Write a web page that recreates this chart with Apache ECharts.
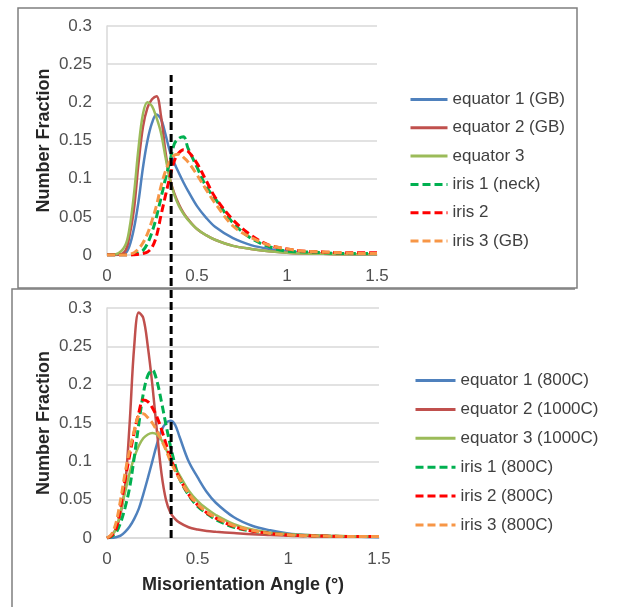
<!DOCTYPE html>
<html>
<head>
<meta charset="utf-8">
<script src="https://cdn.jsdelivr.net/npm/echarts@6/dist/echarts.min.js"></script>
<style>
    html, body { margin: 0; padding: 0; background: #fff; }
    #chart { width: 618px; height: 607px; }
</style>
</head>
<body>
<div id="chart"></div>
<script>
// top panel (GB / neck samples)
var topX = [0, 0.05, 0.1, 0.125, 0.15, 0.175, 0.2, 0.225, 0.25, 0.275, 0.3, 0.325, 0.35, 0.375, 0.4, 0.425, 0.45, 0.5, 0.55, 0.6, 0.7, 0.8, 0.9, 1.0, 1.1, 1.2, 1.3, 1.4, 1.5];
var topNames = ['equator 1 (GB)', 'equator 2 (GB)', 'equator 3', 'iris 1 (neck)', 'iris 2', 'iris 3 (GB)'];
var topEquator1 = [0, 0, 0.002, 0.012, 0.035, 0.07, 0.115, 0.15, 0.173, 0.184, 0.178, 0.158, 0.135, 0.12, 0.107, 0.095, 0.084, 0.064, 0.049, 0.037, 0.022, 0.013, 0.008, 0.005, 0.003, 0.002, 0.0015, 0.001, 0.001];
var topEquator2 = [0, 0, 0.005, 0.025, 0.06, 0.12, 0.168, 0.193, 0.204, 0.208, 0.182, 0.135, 0.1, 0.08, 0.066, 0.055, 0.047, 0.034, 0.026, 0.02, 0.012, 0.008, 0.005, 0.003, 0.002, 0.0015, 0.001, 0.001, 0.001];
var topEquator3 = [0, 0.001, 0.012, 0.035, 0.08, 0.14, 0.185, 0.2, 0.195, 0.18, 0.16, 0.128, 0.098, 0.078, 0.064, 0.054, 0.046, 0.034, 0.026, 0.02, 0.012, 0.008, 0.005, 0.003, 0.002, 0.0015, 0.001, 0.001, 0.001];
var topIris1 = [0, 0, 0, 0, 0.001, 0.003, 0.006, 0.015, 0.03, 0.05, 0.075, 0.1, 0.123, 0.146, 0.153, 0.155, 0.14, 0.115, 0.09, 0.074, 0.042, 0.022, 0.011, 0.005, 0.004, 0.003, 0.002, 0.002, 0.002];
var topIris2 = [0, 0, 0, 0, 0, 0.001, 0.002, 0.004, 0.01, 0.025, 0.052, 0.078, 0.103, 0.124, 0.134, 0.138, 0.136, 0.12, 0.098, 0.076, 0.046, 0.026, 0.013, 0.008, 0.005, 0.004, 0.003, 0.003, 0.003];
var topIris3 = [0, 0, 0, 0.001, 0.003, 0.008, 0.016, 0.028, 0.045, 0.065, 0.09, 0.11, 0.123, 0.131, 0.132, 0.128, 0.122, 0.105, 0.086, 0.068, 0.038, 0.023, 0.013, 0.008, 0.005, 0.004, 0.003, 0.002, 0.002];

// bottom panel (heat treated samples)
var botX = [0, 0.025, 0.05, 0.075, 0.1, 0.125, 0.15, 0.175, 0.2, 0.225, 0.25, 0.275, 0.3, 0.325, 0.35, 0.375, 0.4, 0.45, 0.5, 0.55, 0.6, 0.7, 0.8, 0.9, 1.0, 1.1, 1.2, 1.3, 1.4, 1.5];
var botNames = ['equator 1 (800C)', 'equator 2 (1000C)', 'equator 3 (1000C)', 'iris 1 (800C)', 'iris 2 (800C)', 'iris 3 (800C)'];
var botEquator1 = [0, 0, 0.001, 0.003, 0.008, 0.015, 0.025, 0.038, 0.057, 0.078, 0.1, 0.122, 0.14, 0.15, 0.153, 0.148, 0.132, 0.1, 0.079, 0.06, 0.046, 0.027, 0.016, 0.01, 0.006, 0.004, 0.003, 0.002, 0.0015, 0.001];
var botEquator2 = [0, 0.004, 0.012, 0.032, 0.068, 0.15, 0.25, 0.294, 0.287, 0.25, 0.2, 0.14, 0.085, 0.05, 0.033, 0.025, 0.02, 0.014, 0.011, 0.009, 0.008, 0.0065, 0.005, 0.004, 0.003, 0.0025, 0.002, 0.002, 0.0015, 0.0015];
var botEquator3 = [0, 0.003, 0.012, 0.035, 0.06, 0.085, 0.105, 0.12, 0.13, 0.135, 0.137, 0.135, 0.128, 0.116, 0.103, 0.092, 0.082, 0.062, 0.048, 0.038, 0.03, 0.018, 0.011, 0.007, 0.005, 0.004, 0.003, 0.0025, 0.002, 0.002];
var botIris1 = [0, 0.002, 0.007, 0.02, 0.04, 0.066, 0.105, 0.148, 0.188, 0.212, 0.219, 0.205, 0.178, 0.148, 0.12, 0.096, 0.077, 0.056, 0.041, 0.032, 0.024, 0.014, 0.009, 0.006, 0.004, 0.003, 0.0025, 0.002, 0.002, 0.002];
var botIris2 = [0, 0.003, 0.012, 0.04, 0.076, 0.108, 0.138, 0.163, 0.18, 0.178, 0.17, 0.158, 0.142, 0.123, 0.104, 0.09, 0.078, 0.057, 0.043, 0.033, 0.026, 0.015, 0.009, 0.006, 0.004, 0.003, 0.0025, 0.002, 0.002, 0.002];
var botIris3 = [0, 0.005, 0.02, 0.05, 0.085, 0.115, 0.14, 0.16, 0.162, 0.157, 0.15, 0.14, 0.128, 0.115, 0.1, 0.088, 0.077, 0.058, 0.044, 0.034, 0.027, 0.016, 0.01, 0.006, 0.004, 0.003, 0.0025, 0.002, 0.002, 0.002];

// reference angle marked by the black dashed line
var cutoffAngle = 0.355;

var xTicks = [0, 0.5, 1, 1.5];

var colors = ['#4f81bd', '#c0504d', '#9bbb59', '#00b050', '#ff0000', '#f79646'];
var font = 'Liberation Sans, Arial, sans-serif';

function pairs(xs, ys) {
    return xs.map(function (x, i) { return [x, ys[i]]; });
}

function curve(name, xs, ys, idx, grid) {
    var dashed = idx >= 3;
    return {
        name: name,
        type: 'line',
        xAxisIndex: grid,
        yAxisIndex: grid,
        data: pairs(xs, ys),
        smooth: 0.35,
        symbol: 'none',
        silent: true,
        z: dashed ? 3 : 2,
        lineStyle: {
            color: colors[idx],
            width: dashed ? 3 : 2.5,
            type: dashed ? [8, 4] : 'solid'
        },
        itemStyle: { color: colors[idx] }
    };
}

function xAxisFor(grid, title) {
    return {
        type: 'value', gridIndex: grid, min: 0, max: 1.5, interval: 0.5,
        axisLine: { show: true, lineStyle: { color: '#d9d9d9', width: 1.5 } },
        axisTick: { show: false },
        splitLine: { show: false },
        axisLabel: { color: '#505050', fontSize: 17, fontFamily: font, margin: 13,
            formatter: function (v) { return xTicks.indexOf(v) >= 0 ? String(v) : ''; } },
        name: title || '',
        nameLocation: 'middle',
        nameGap: 38,
        nameTextStyle: { color: '#262626', fontSize: 18, fontWeight: 'bold', fontFamily: font }
    };
}

function yAxisFor(grid) {
    return {
        type: 'value', gridIndex: grid, min: 0, max: 0.3, interval: 0.05,
        axisLine: { show: true, lineStyle: { color: '#d9d9d9', width: 1.5 } },
        axisTick: { show: false },
        splitLine: { show: true, lineStyle: { color: '#d9d9d9', width: 1.5 } },
        axisLabel: { color: '#505050', fontSize: 17, fontFamily: font, margin: 15,
            formatter: function (v) { return String(+v.toFixed(2)); } },
        name: 'Number Fraction',
        nameLocation: 'middle',
        nameGap: 54,
        nameTextStyle: { color: '#262626', fontSize: 18, fontWeight: 'bold', fontFamily: font }
    };
}

function legendFor(names, left, top, width, gap) {
    return {
        data: names,
        orient: 'vertical',
        left: left,
        top: top,
        itemWidth: width,
        itemHeight: 14,
        itemGap: gap,
        selectedMode: false,
        itemStyle: { opacity: 0 },
        lineStyle: { width: 3 },
        textStyle: { color: '#404040', fontSize: 17, fontFamily: font, lineHeight: 19 }
    };
}

var chartDom = document.getElementById('chart');
var myChart = echarts.init(chartDom, null, { renderer: 'canvas' });

var series = [];
var topSets = [topEquator1, topEquator2, topEquator3, topIris1, topIris2, topIris3];
var botSets = [botEquator1, botEquator2, botEquator3, botIris1, botIris2, botIris3];
topSets.forEach(function (ys, i) { series.push(curve(topNames[i], topX, ys, i, 0)); });
botSets.forEach(function (ys, i) { series.push(curve(botNames[i], botX, ys, i, 1)); });

// dashed marker line spans both panels, so it lives on its own overlay grid
series.push({
    type: 'line',
    xAxisIndex: 2,
    yAxisIndex: 2,
    data: [[cutoffAngle, 0], [cutoffAngle, 1]],
    symbol: 'none',
    silent: true,
    z: 5,
    lineStyle: { color: '#000', width: 3, type: [8, 4] }
});

var option = {
    animation: false,
    backgroundColor: '#fff',
    grid: [
        { left: 107, right: 241, top: 26, height: 229 },
        { left: 107, right: 239, top: 308, height: 230 },
        { left: 107, right: 240, top: 75, bottom: 69 }
    ],
    xAxis: [
        xAxisFor(0),
        xAxisFor(1, 'Misorientation Angle (°)'),
        { type: 'value', gridIndex: 2, min: 0, max: 1.5, show: false }
    ],
    yAxis: [
        yAxisFor(0),
        yAxisFor(1),
        { type: 'value', gridIndex: 2, min: 0, max: 1, show: false }
    ],
    legend: [
        legendFor(topNames, 404, 85, 37, 9.3),
        legendFor(botNames, 409, 366, 40, 9.9)
    ],
    graphic: [
        // panel frames
        { type: 'rect', shape: { x: 18, y: 8, width: 559, height: 280 }, style: { fill: 'none', stroke: '#7f7f7f', lineWidth: 1.5 }, z: 0 },
        { type: 'polyline', shape: { points: [[12, 607], [12, 289], [575, 289]] }, style: { fill: 'none', stroke: '#7f7f7f', lineWidth: 1.5 }, z: 1 }
    ],
    series: series
};

option && myChart.setOption(option);
</script>
</body>
</html>
